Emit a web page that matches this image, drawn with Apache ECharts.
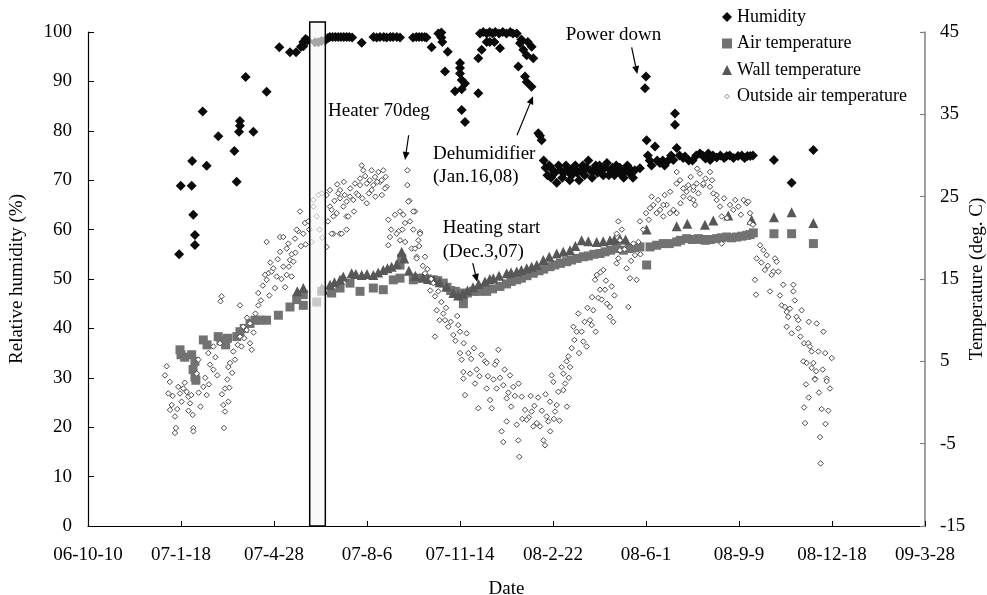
<!DOCTYPE html>
<html>
<head>
<meta charset="utf-8">
<script src="https://cdn.jsdelivr.net/npm/echarts@6/dist/echarts.min.js"></script>
<style>html,body{margin:0;padding:0;background:#fff;overflow:hidden}#c{width:987px;height:595px}</style>
</head>
<body>
<div id="c"></div>
<script>
// x values are days since 2006-10-10
const tickLabels = ['06-10-10','07-1-18','07-4-28','07-8-6','07-11-14','08-2-22','08-6-1','08-9-9','08-12-18','09-3-28'];

const humidity = [
[98,55],[99.7,68.9],[111.5,68.9],[112,73.9],[113.2,63],[115,58.9],[115,56.9],[123.3,83.9],[127.6,72.9],[140.1,78.9],[157.4,75.9],[159.9,69.7],[163.4,82],[163.4,81],[162.4,79.8],[169.5,90.9],[177.8,79.8],[192.1,87.9],[205.7,96.9],[217.2,95.9],[223.7,95.9],[229,97],[231.5,98],[231.5,97.1],[234,98.6],[236,98.3],[244,97.9],[247.7,97.9],[251,98.2],[255,98.3],[258,98.8],
[260,99],[263,99],[266,99],[269,99],[272,99],[275,99],[278,99],[281,99],[284,98.9],[294.3,97.8],[307,99],[310.4,98.9],[314,99],[318,99],[321.1,98.9],[325,99],[328,99],[332,99],[335.5,98.9],[349.5,98.9],[353,99],[356,99],[359,99],[362,99],[364,98.9],[369.5,96.9],[376.7,99.7],
[380,99.9],[380,98.9],[381,98],[386.8,96],[383.9,92],[394.6,88],[400,93.7],[400,92.7],[400,91.6],[401.8,90.3],[405.4,89.6],[401.8,88.4],[401.8,84.2],[405.4,81.8],[419.7,87.6],[419.7,94.7],[423.3,96.4],[421.5,99.7],[425,100],[428.7,99.7],[432,100],[435,99.7],[438,100],[442,99.7],[446,100],[450,99.7],[454,100],[457,99.7],[461,99.7],[428.7,98],[432,98],[443,96.7],[437,98],[464.5,97.7],[468.1,96.4],[471.7,95.3],[477.1,97],[478.8,94.7],[462.7,93],[469.9,91],[471.7,89.9],[476.9,88.9],[466,98.5],[473,98],
[484.2,79.5],[487.8,78.1],[486,79],
[490,74],[492,72.5],[494,71],[496,73],[498,70.5],[500,72],[502,71.5],[504,69.5],[506,73],[508,72],[510,70.5],[512,71.5],[514,73],[516,72],[518,70],[520,71],[522,72.5],[524,73],[526,71.5],[528,70],[530,72],[532,73],[534,71],[536,72.5],[538,74],[540,72],[542,70.5],[544,72],[546,73],[548,71.5],[550,73],[552,72],[554,71],[556,72.5],[558,73.5],[560,71],[562,72],[564,72.5],[566,71],[568,73],[570,72],[572,72.5],[574,71],[576,70.5],[578,72],[580,73],[582,71.5],[584,72],[586,70.5],[588,72],
[593.5,72.4],[598.9,88.6],[600,91],[600.7,78.1],[602,75],[604,74],[606,73],[609.7,76.8],[612,74],[615,73.5],[618,74],[620,73],[624,74],[627,75],[629.4,74.1],[631.2,83.5],[631.2,81.2],[633,76.5],[636,75],[640,74.5],[642,74.8],[646,74],[650,74],[654,75],[658,75.4],[661,75],[664,74.4],[667,75.4],[669,74.1],[672,75],[676,74.6],[680,75],[684,74.5],[686.7,74.9],[690,75],[694,74.5],[699,74.9],[703,75],[706,74.5],[709,74.9],[712,74.9],[715,75],[737.6,74.1],[756.6,69.5],[780,76.1]
];

const airTemp = [
[98.9,6.4],[100,5.8],[104,5.5],[111.5,5.8],[113,4.0],[115,5.0],[115,3.1],[116,2.7],[124,7.6],[128,7.0],[140,8.0],[143,7.5],[148,7.0],[150,7.8],[160,8.0],[163.4,8.6],[168,9.0],[174.2,9.6],[179.6,10.0],[185,10.0],[192,10.0],[204.7,10.6],[217.2,11.6],[224.4,12.5],[231.5,11.8],[231.5,13.1],[245.9,12.2],[251.3,13.5],[262,13.3],[271,13.9],[281.7,14.5],[292.5,13.5],[306.8,13.9],[317.5,13.7],[328.3,14.9],[335.5,15.1],[335.5,16.7],[337.3,17.5],[349.8,14.9],[353.4,15.1],[360.5,15.1],[365,15],[371.3,14.9],[376,14.8],[382,14.5],[386,14],[390,13.6],[395,13.5],[398.2,13.3],[403.6,12.0],[403.6,13.0],[408,13.3],[414.3,13.5],[420,13.5],[425,13.6],[428.7,13.5],[435,13.8],[443,14.1],[450,14.4],[455,14.7],[461,14.9],[466,15.1],[472,15.4],[478.8,15.7],[485,16.0],[490,16.2],[496.8,16.5],[502,16.7],[508,16.9],[514.7,17.1],[520,17.3],[526,17.5],[532.6,17.7],[538,17.8],[544,18.0],[550.5,18.1],[556,18.3],[562,18.5],[568.5,18.7],[575.6,18.5],[582,18.7],[588,18.8],[593.5,18.9],[600.7,16.7],[604.3,18.9],[611.5,19.1],[618.6,19.3],[625,19.3],[633,19.5],[637,19.7],[643.7,19.9],[650,19.8],[656.3,19.9],[660,19.8],[664,19.7],[669,19.8],[676,19.9],[681,20.0],[686.7,20.1],[692,20.0],[697.5,20.1],[703,20.2],[708.3,20.3],[712,20.4],[715.4,20.6],[737.6,20.5],[756.6,20.5],[780,19.3]
];

const wallTemp = [
[225,13.5],[231.5,13.9],[251.3,13.9],[253,13.7],[260.2,14.3],[265,14.6],[271,14.9],[274.5,15.3],[283.5,15.7],[288,15.6],[294.3,15.5],[300,15.6],[306.8,15.5],[312,15.8],[317.5,16.1],[322,16.3],[326.5,16.5],[332,16.8],[337.3,18.3],[340,17.5],[345,16],[352,15.4],[360,15.2],[366,15.0],[372,14.9],[378,14.6],[385.7,14.1],[392.8,13.3],[398,13.0],[403,13.2],[408,13.6],[414,14.0],[420,14.4],[426.9,14.7],[432,15.0],[435.8,15.1],[442,15.4],[450.2,15.7],[455,15.8],[461,15.9],[466,16.1],[471.7,16.3],[477,16.5],[482.5,16.7],[489.6,17.3],[496,17.7],[504,18.1],[511,18.3],[518.3,18.5],[524,19.0],[530.8,19.7],[538,19.6],[547,19.5],[554,19.6],[561.3,19.7],[566,19.8],[572,19.9],[578,19.8],[600.7,21.0],[633,21.4],[644.4,21.7],[663.4,21.6],[672.4,22.1],[688.5,22.7],[713.6,22.2],[737.6,22.5],[756.6,23.1],[780,21.8]
];

const outsideTemp = [
[84.6,4.4],[82.8,3.3],[86.4,1.1],[90,-0.3],[88.2,-0.9],[93.5,-1.7],[94.6,-3.1],[93.5,-3.7],[97.1,1.9],[102.5,1.7],[98.9,1.1],[100.7,0.1],[106.1,1.3],[107.9,0.7],[109.7,-0.1],[112.5,-1.5],[113.3,-3.1],[113.3,-3.5],[116.9,3.5],[124,1.9],[127.6,0.9],[131.2,4.6],[134.7,4.0],[145.5,-0.3],[147.3,-1.1],[147.3,1.7],[149.8,2.8],[150.9,0.1],[146.2,-3.1],[150.9,4.3],[152.7,4.8],
[88,2.5],[91,0.8],[96,-0.8],[104,2.4],[108,-1.0],[111,0.9],[119,1.2],[121,-0.5],[126,3.0],[130,2.2],[137,5.5],[139,3.3],[144,1.0],[152,1.8],[155,3.6],[158,5.2],[161,7.0],[165,6.8],[168,7.8],[171,10.3],[178,8.5],[180,10.8],[186,12.4],[188,14.2],[195,13.0],[196,17.0],[204,17.4],[208,15.0],[212,14.0],[216,16.5],[219,18.0],[223,18.2],[226,20.8],[229,19.0],[234,19.2],[238,21.0],
[118.6,5.2],[129.4,6.0],[134.8,6.8],[141.9,7.2],[156.3,6.2],[163.4,8.0],[167,9.2],[170.6,8.8],[174.2,9.6],[174.2,7.2],[176,6.4],[143.7,12.9],[142.5,12.3],[163.4,11.8],[183.1,11.8],[183.1,13.3],[192.1,14.9],[193.9,15.7],[190.3,15.5],[197.5,15.9],[199.3,16.3],[202.9,15.3],[201.1,13.9],[210,16.5],[217.2,17.3],[213.6,15.5],[219,15.3],[220.8,17.1],[206.5,20.1],[210,20.1],[192.1,19.5],[206.5,18.3],[213.6,18.7],[215.4,19.3],[222.6,19.9],[224.4,21.0],[228,23.2],[231.5,20.5],[233.3,21.8],[236.9,22.0],[242.3,24.6],[247.7,25.2],[251.3,25.4],[242.3,23.8],[245.9,22.6],[240.5,19.5],[249,21],[252,20],
[256.6,25.2],[260.2,25.8],[271,25.8],[271,24.8],[260.2,23.8],[263.8,22.6],[267.4,23.0],[278.1,22.6],[278.1,21.0],[271,20.5],[263.8,20.5],[256.6,18.9],[285.3,24.6],[288.9,25.4],[292.5,26.4],[299.7,26.6],[306.8,26.4],[314,26.8],[321.1,26.2],[299.7,24.2],
[258,22.0],[265,24.5],[268,26.5],[275,26.8],[276,25.2],[282,26.0],[286,23.2],[295,24.8],[298,27.5],[302,25.4],[303,27.0],[309,25.0],[311,26.8],[316,25.2],[320,27.4],[326,21.0],[330,22.8],[334,20.8],[341,19.5],[356,19.0],[360,16.6],[365,16.2],[368,13.6],[369,15.0],
[294.3,28.8],[296,28.2],[305,28.2],[312.2,28.0],[317.5,28.2],[308.6,27.4],[315.8,27.0],[319.4,26.0],[305,25.8],[292.5,27.2],[287.1,26.6],[290.6,25.2],[281.7,25.0],[278.1,24.4],[269.1,25.4],[274.5,23.8],[279.9,22.6],[262,23.4],[272.8,20.5],[262,20.5],
[343.4,28.2],[343.4,26.4],[345.5,24.5],[335.5,23.2],[339,22.8],[322.9,22.2],[351.6,23.2],[346.2,22.0],[349.8,21.0],[338,21],[331.9,20.5],[324.7,20.1],[335.5,19.7],[357,20.7],[355.2,19.7],[348,18.7],[353.4,17.7],[362.4,17.7],[322.9,19.1],
[344.4,24.4],[349.8,23.2],[340.9,21.8],[357,20.5],[351.6,18.7],[353.4,17.5],[362.4,15.7],[371.3,14.5],[376.7,13.5],[373.1,12.9],[375,11.2],[382,10.8],[383.9,10.0],[387.4,9.2],[398.2,9.4],[392.8,8.2],[400,8.6],[373.1,8.0],[407.2,8.4],[400,6.0],[401.8,5.2],[403.6,3.7],[410.8,3.5],[418,4.0],[426.9,5.0],[428.7,4.8],[441.2,6.4],[439.4,5.0],
[378,10.0],[380,12.2],[385,11.5],[390,9.8],[395,7.5],[397,10.5],[404,7.2],[409,6.0],[412,5.3],[415,6.6],[421,3.2],[423,5.8],[430,3.2],[436,2.8],[443,3.0],[448,4.0],[452,1.2],[455,-0.5],[459,0.8],[463,2.3],[467,-2.0],[474,-1.8],[476,0.8],[480,-0.4],[484,0.6],[488,-1.0],[492,1.0],[497,-3.5],[501,-2.0],[507,-2.2],
[403.6,2.9],[405.4,0.9],[416.1,2.3],[419.7,-0.7],[428.7,1.7],[432.3,0.3],[434.1,-0.7],[437.6,4.6],[439.4,1.7],[446.6,2.1],[450.2,0.5],[453.8,3.3],[457.3,1.9],[450.2,-2.3],[444.8,-3.5],[446.6,-4.8],[461,-2.7],[462.7,-4.6],[463.8,-6.6],[466.3,0.7],[469.9,-0.9],[471.7,-2.1],[477.1,-1.1],[478.8,-2.9],[482.5,-2.5],[486,-2.9],[489.6,-4.6],[491.4,-5.2],[493.2,-1.7],[496.8,0.1],[502.2,-1.1],[504,-0.3],[505.7,1.3],[511.1,1.5],[498.6,3.3],[500.4,2.5],[511.1,3.5],[509.3,4.3],[514.7,5.0],[494.9,-2.3],
[516.5,5.6],[518.3,4.3],[520.1,6.6],[521.9,9.2],[525.5,8.6],[527.2,10.8],[530.8,8.6],[532.6,7.4],[536.2,6.8],[539.8,10.0],[541.6,9.4],[543.3,11.2],[545.2,14.9],[547,15.5],[550.5,13.7],[548.7,12.7],[552.4,12.5],[555.9,13.7],[554.1,16.1],[563.1,14.1],[561.3,11.6],[561.3,10.4],[564.8,9.8],[568.5,16.9],[570.2,17.5],[572,18.5],[570.2,22.0],[568.5,20.5],[572,19.7],[579.2,16.3],[582.8,15.1],[581,11.6],[589.9,14.9],[586.4,19.3],[588.2,17.9],[591.8,19.5],[593.5,22.0],[607.9,24.0],[611.5,23.0],[615.1,23.4],[618.6,22.6],[622.2,24.0],[625.8,23.0],[633,23.0],[640.1,25.0],[643.7,26.2],[647.3,24.8],[650.9,25.8],[652.7,24.0],[654.5,26.6],
[513,2.3],[515,-0.5],[517,3.0],[523,7.6],[528,6.0],[534,9.8],[537,11.5],[542,12.8],[546,8.6],[551,15.8],[557,14.8],[558,12.0],[566,13.0],[574,21.0],[577,18.6],[584,17.2],[594,18.0],[597,21.0],[600,23.0],[603,22.2],[606,25.0],[613,24.6],[620,25.2],[626,25.6],[637,24.2],[648,27.4],[655,28.4],[664,27.2],[671,27.0],[684,24.8],[687,22.4],[696,24.6],[702,22.8],[705,24.6],
[633,28.0],[636.6,27.0],[658,27.8],[668.8,28.0],[661.6,26.4],[651,26.2],[643.7,25.6],[676,25.2],
[604.3,23.6],[618.6,24.0],[629.4,23.4],[633,26.6],[640.1,26.0],[645.5,26.4],[651,24.6],[656.3,25.4],[661.6,26.6],[668.8,26.2],[672.4,25.4],[676,24.6],[679.6,23.8],[681.4,22.6],[690.3,24.0],[693.9,23.4],[699.3,23.8],[708.3,24.2],[710,24.4],[711.8,23.0],[711.8,21.8],[681.4,19.3],
[715,21.6],[724,17.0],[731,16.6],[744,13.0],[760,12.4],[766,8.0],[770,7.2],[775,9.8],[783,3.8],[786,1.2],[790,4.0],[793,-2.6],[775,0.6],
[722.6,19.1],[719,17.5],[726.2,18.5],[729.7,17.9],[717.2,14.9],[718.3,13.1],[727.9,16.1],[738.7,17.5],[740.5,17.1],[736.9,15.9],[735.1,15.5],[733.3,13.5],[742.3,15.9],[747.6,14.3],[745.9,11.8],[749.5,11.6],[754.8,11.4],[758.4,14.3],[758.4,13.5],[751.3,11.0],[752.9,10.4],[761.9,10.4],[763.8,10.0],[767.4,11.2],[751.3,9.2],[756.6,8.4],[763.8,9.0],[774.5,7.2],[776.3,6.8],[778.1,6.2],[783.6,9.6],[790.7,8.6],[785.3,6.2],[792.7,6.0],[799.7,5.4],[769.2,5.0],[772.8,4.8],[780,4.8],[778.1,4.2],[781.7,2.9],[794.3,2.9],
[772,2.2],[781.7,2.8],[794.3,2.6],[797.8,1.7],[770,-0.6],[788.9,-0.8],[796,-1.0],[771,-2.5],[787.1,-4.2],[787.8,-7.4]
];

// annotations in data coordinates (day, humidity axis)
const annotTexts = [
  {text: 'Heater 70deg', at: [258.1, 84.0]},
  {text: 'Power down', at: [513.7, 99.4]},
  {text: 'Dehumidifier', at: [371.0, 75.3]},
  {text: '(Jan.16,08)', at: [371.0, 70.6]},
  {text: 'Heating start', at: [381.4, 60.3]},
  {text: '(Dec.3,07)', at: [381.4, 55.5]}
];
const annotArrows = [
  {from: [344.8, 79.1], to: [340.9, 74.1]},
  {from: [461.3, 79.1], to: [478.5, 87.0]},
  {from: [413.7, 53.2], to: [418.6, 49.4]},
  {from: [584.6, 96.9], to: [590.6, 91.5]}
];
const heaterBox = {from: [238.4, 102.0], to: [255.2, 0]};

const FONT = '"Liberation Serif", "Times New Roman", serif';
const chart = echarts.init(document.getElementById('c'), null, {renderer: 'canvas'});

const outsideIcon = 'image://data:image/svg+xml;charset=utf-8,' + encodeURIComponent(
  "<svg xmlns='http://www.w3.org/2000/svg' width='20' height='20'><path d='M10 5.5 L14.5 10 L10 14.5 L5.5 10 Z' fill='white' stroke='#666' stroke-width='1.6'/></svg>");

const option = {
  animation: false,
  backgroundColor: '#fff',
  grid: {left: 88, right: 62, top: 32, bottom: 69, containLabel: false, outerBoundsMode: 'none'},
  legend: {
    orient: 'vertical', left: 717, top: 3, itemWidth: 10, itemHeight: 10, itemGap: 8.5,
    textStyle: {fontFamily: FONT, fontSize: 18, color: '#000', lineHeight: 18},
    data: [
      {name: 'Humidity'},
      {name: 'Air temperature'},
      {name: 'Wall temperature'},
      {name: 'Outside air temperature', icon: outsideIcon}
    ]
  },
  xAxis: {
    type: 'value', min: 0, max: 900, interval: 100,
    name: 'Date', nameLocation: 'middle', nameGap: 54, nameMoveOverlap: false,
    nameTextStyle: {fontFamily: FONT, fontSize: 19, color: '#000'},
    axisLine: {onZero: false, lineStyle: {color: '#000', width: 1.2}},
    axisTick: {inside: true, length: 5, lineStyle: {color: '#000'}},
    axisLabel: {margin: 20, fontFamily: FONT, fontSize: 19, color: '#000',
      formatter: v => tickLabels[Math.round(v / 100)]},
    splitLine: {show: false}
  },
  yAxis: [
    {
      type: 'value', min: 0, max: 100, interval: 10, position: 'left',
      name: 'Relative humidity (%)', nameLocation: 'middle', nameGap: 61, nameMoveOverlap: false,
      nameTextStyle: {fontFamily: FONT, fontSize: 19, color: '#000'},
      axisLine: {show: true, onZero: false, lineStyle: {color: '#000', width: 1.2}},
      axisTick: {show: true, inside: true, length: 6, lineStyle: {color: '#000'}},
      axisLabel: {margin: 16, fontFamily: FONT, fontSize: 19, color: '#000'},
      splitLine: {show: false}
    },
    {
      type: 'value', min: -15, max: 45, interval: 10, position: 'right',
      name: 'Temperature (deg. C)', nameLocation: 'middle', nameGap: 43, nameMoveOverlap: false,
      nameTextStyle: {fontFamily: FONT, fontSize: 19, color: '#000'},
      axisLine: {show: true, onZero: false, lineStyle: {color: '#808080', width: 1.5}},
      axisTick: {show: true, inside: true, length: 5, lineStyle: {color: '#808080', width: 1.2}},
      axisLabel: {margin: 15, fontFamily: FONT, fontSize: 19, color: '#000'},
      splitLine: {show: false}
    }
  ],
  series: [
    {name: 'Humidity', type: 'scatter', yAxisIndex: 0, symbol: 'diamond', symbolSize: 10,
      itemStyle: {color: '#0a0a0a', opacity: 1}, data: humidity, z: 2},
    {name: 'Air temperature', type: 'scatter', yAxisIndex: 1, symbol: 'rect', symbolSize: 9,
      itemStyle: {color: '#727272', opacity: 1}, data: airTemp, z: 3},
    {name: 'Wall temperature', type: 'scatter', yAxisIndex: 1, symbol: 'triangle', symbolSize: 10,
      itemStyle: {color: '#575757', opacity: 1}, data: wallTemp, z: 4},
    {name: 'Outside air temperature', type: 'scatter', yAxisIndex: 1, symbol: 'diamond', symbolSize: 5.5,
      itemStyle: {color: '#fff', borderColor: '#4a4a4a', borderWidth: 1, opacity: 1}, data: outsideTemp, z: 5}
  ]
};
chart.setOption(option);

function px(p) { return chart.convertToPixel({xAxisIndex: 0, yAxisIndex: 0}, p); }

const graphics = [];
const b0 = px(heaterBox.from), b1 = px(heaterBox.to);
graphics.push({type: 'rect', z: 50, shape: {x: b0[0], y: b0[1], width: b1[0] - b0[0], height: b1[1] - b0[1]},
  style: {fill: 'rgba(246,246,246,0.66)', stroke: '#000', lineWidth: 1.5}});
annotTexts.forEach(t => {
  const p = px(t.at);
  graphics.push({type: 'text', z: 1, x: p[0], y: p[1],
    style: {text: t.text, font: '19px ' + FONT, fill: '#000', align: 'left', verticalAlign: 'middle',
      textAlign: 'left', textVerticalAlign: 'middle'}});
});
annotArrows.forEach(a => {
  const p0 = px(a.from), p1 = px(a.to);
  const dx = p1[0] - p0[0], dy = p1[1] - p0[1];
  const L = Math.sqrt(dx * dx + dy * dy), ux = dx / L, uy = dy / L;
  const hl = 8, hw = 3.5;
  const bx = p1[0] - ux * hl, by = p1[1] - uy * hl;
  graphics.push({type: 'line', z: 60, shape: {x1: p0[0], y1: p0[1], x2: bx, y2: by},
    style: {stroke: '#000', lineWidth: 1.2}});
  graphics.push({type: 'polygon', z: 60, shape: {points: [[p1[0], p1[1]], [bx - uy * hw, by + ux * hw], [bx + uy * hw, by - ux * hw]]},
    style: {fill: '#000'}});
});
chart.setOption({graphic: graphics});
</script>
</body>
</html>
